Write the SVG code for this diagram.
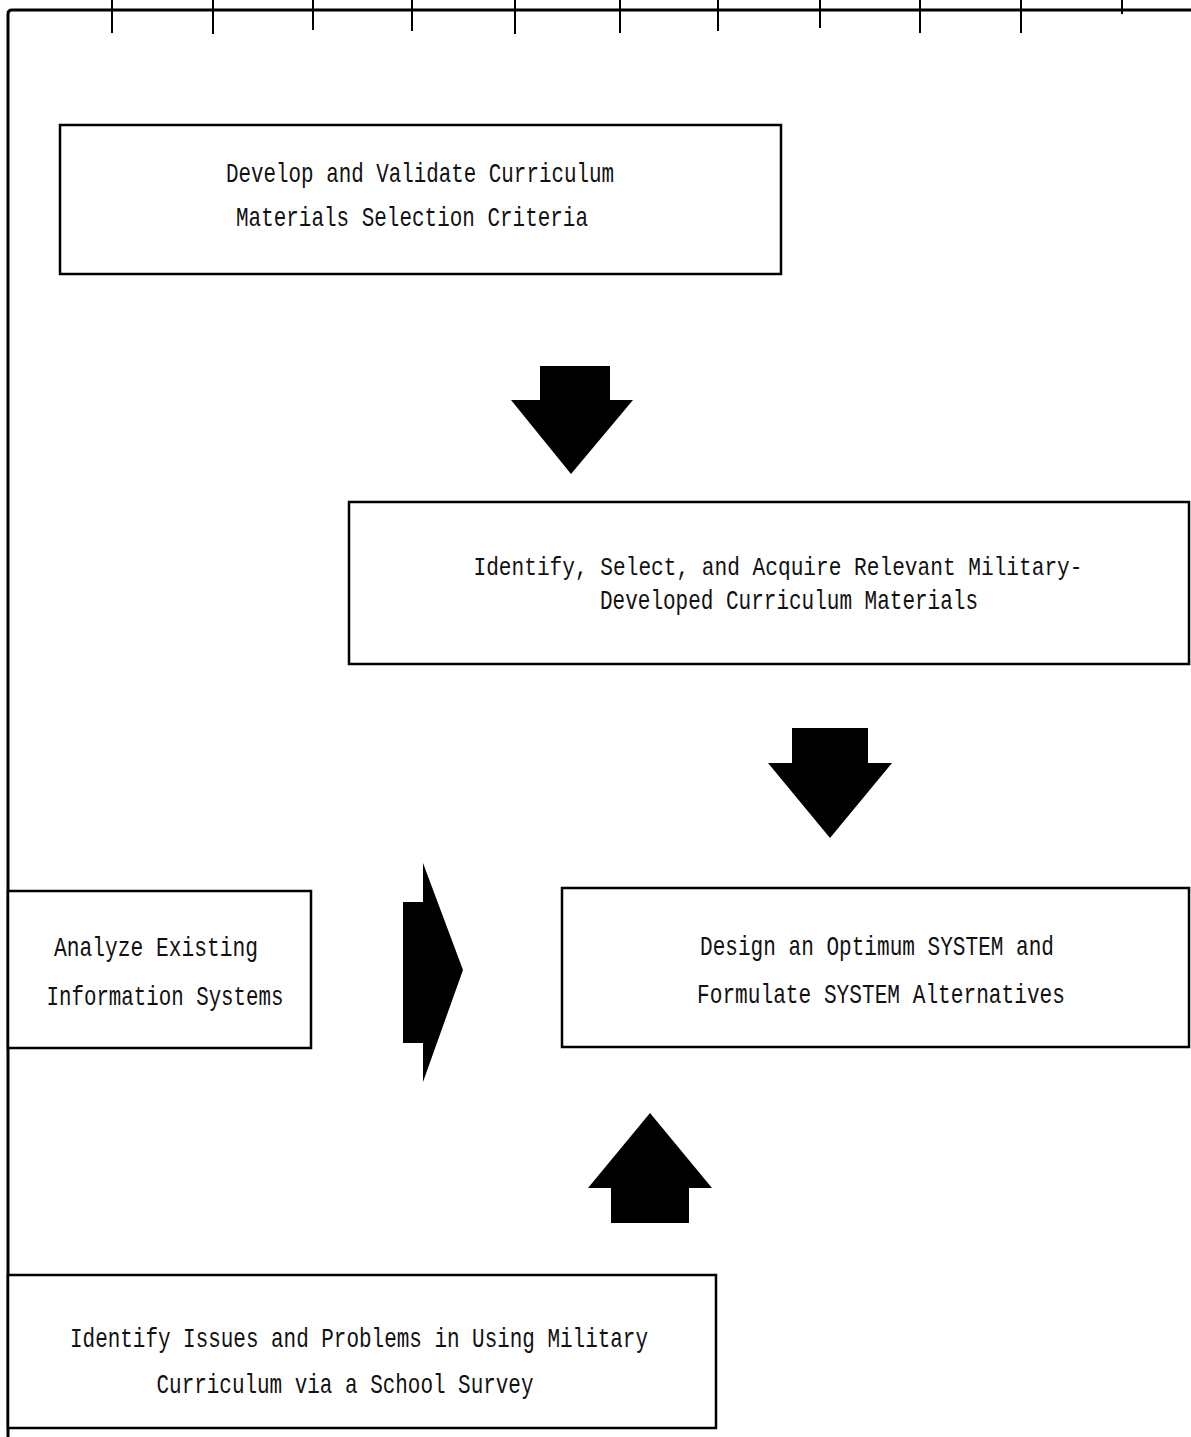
<svg xmlns="http://www.w3.org/2000/svg" width="1191" height="1437" viewBox="0 0 1191 1437">
<style>
.box{fill:#fff;stroke:#000;stroke-width:2.5}
.lbl{font-family:"Liberation Mono","DejaVu Sans Mono",monospace;font-size:28px;fill:#111;text-anchor:middle}
.arrow{fill:#000;stroke:none}
.rule{stroke:#000;fill:none}
</style>
<rect width="1191" height="1437" fill="#fff"/>
<g id="frame">
<path class="rule" stroke-width="3" d="M8 1437 V14 Q8 10 12 10 H1191"/>
<g class="rule" stroke-width="2">
<line x1="112" y1="0" x2="112" y2="33"/>
<line x1="213" y1="0" x2="213" y2="34"/>
<line x1="313" y1="0" x2="313" y2="30"/>
<line x1="412" y1="0" x2="412" y2="31"/>
<line x1="515" y1="0" x2="515" y2="34"/>
<line x1="620" y1="0" x2="620" y2="33"/>
<line x1="718" y1="0" x2="718" y2="31"/>
<line x1="820" y1="0" x2="820" y2="28"/>
<line x1="920" y1="0" x2="920" y2="33"/>
<line x1="1021" y1="0" x2="1021" y2="33"/>
<line x1="1122" y1="0" x2="1122" y2="14"/>
</g>
</g>
<g id="node-criteria">
<rect class="box" x="60" y="125" width="721" height="149"/>
<text class="lbl" x="420" y="182" textLength="388" lengthAdjust="spacingAndGlyphs">Develop and Validate Curriculum</text>
<text class="lbl" x="412" y="226" textLength="352" lengthAdjust="spacingAndGlyphs">Materials Selection Criteria</text>
</g>
<g id="node-acquire">
<rect class="box" x="349" y="502" width="840" height="162"/>
<text class="lbl" x="778" y="575" style="font-size:25px" textLength="609" lengthAdjust="spacingAndGlyphs">Identify, Select, and Acquire Relevant Military-</text>
<text class="lbl" x="789" y="609" textLength="378" lengthAdjust="spacingAndGlyphs">Developed Curriculum Materials</text>
</g>
<g id="node-analyze">
<rect class="box" x="8" y="891" width="303" height="157"/>
<text class="lbl" x="156" y="956" textLength="204" lengthAdjust="spacingAndGlyphs">Analyze Existing</text>
<text class="lbl" x="165" y="1005" textLength="237" lengthAdjust="spacingAndGlyphs">Information Systems</text>
</g>
<g id="node-design">
<rect class="box" x="562" y="888" width="627" height="159"/>
<text class="lbl" x="877" y="955" textLength="354" lengthAdjust="spacingAndGlyphs">Design an Optimum SYSTEM and</text>
<text class="lbl" x="881" y="1003" textLength="368" lengthAdjust="spacingAndGlyphs">Formulate SYSTEM Alternatives</text>
</g>
<g id="node-survey">
<rect class="box" x="8" y="1275" width="708" height="153"/>
<text class="lbl" x="359" y="1347" textLength="578" lengthAdjust="spacingAndGlyphs">Identify Issues and Problems in Using Military</text>
<text class="lbl" x="345" y="1393" textLength="377" lengthAdjust="spacingAndGlyphs">Curriculum via a School Survey</text>
</g>
<g id="connectors">
<polygon class="arrow" points="540,366 610,366 610,400 633,400 571,474 511,400 540,400"/>
<polygon class="arrow" points="792,728 868,728 868,763 892,763 830,838 768,763 792,763"/>
<polygon class="arrow" points="403,902 423,902 423,863 463,970 423,1082 423,1043 403,1043"/>
<polygon class="arrow" points="611,1223 689,1223 689,1188 712,1188 650,1113 588,1188 611,1188"/>
</g>
</svg>
